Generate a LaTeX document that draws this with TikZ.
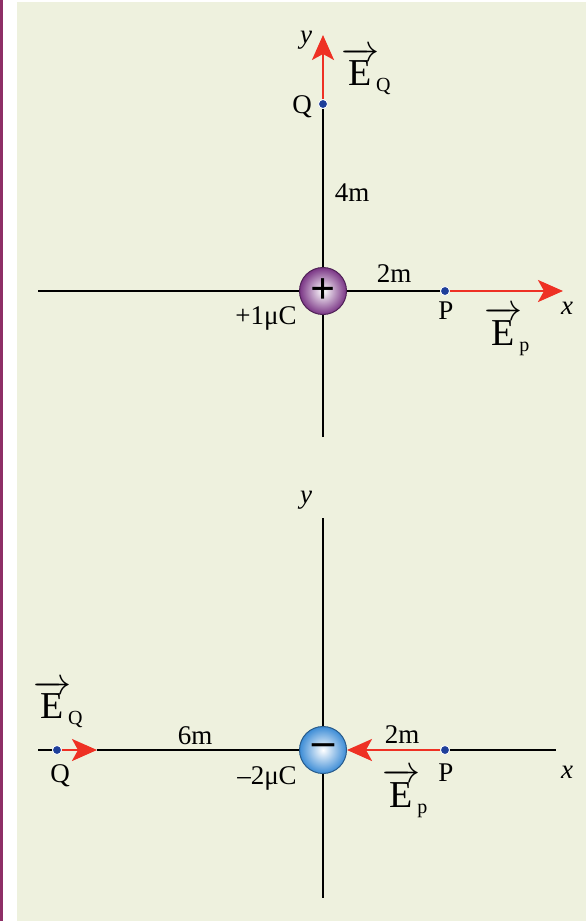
\documentclass[tikz,border=0pt]{standalone}
\usepackage{fix-cm}
\usepackage{amsmath}
\usepackage{fontspec}
\setmainfont{Liberation Serif}
\usetikzlibrary{arrows.meta,positioning}

\definecolor{panelgreen}{HTML}{EEF1DE}
\definecolor{sidebar}{HTML}{8E2F66}
\definecolor{fieldred}{HTML}{EE3124}
\definecolor{dotblue}{HTML}{1E3F9A}
\definecolor{chargepurple}{HTML}{7A3585}
\definecolor{chargeblue}{HTML}{3C8CD6}

\newcommand{\fieldvec}[1]{$\overrightarrow{\hbox{E}}_{\kern-3pt\hbox{\fontsize{20}{20}\selectfont #1}}$}

\begin{document}
\begin{tikzpicture}[
  x=1pt, y=-1pt,
  lbl/.style={inner sep=0pt, font=\fontsize{27}{30}\selectfont},
  axislbl/.style={inner sep=0pt, font=\fontsize{27}{30}\selectfont\itshape},
  veclbl/.style={inner sep=0pt, font=\fontsize{38}{40}\selectfont},
  axis/.style={line width=1.8pt, black},
  field/.style={line width=2.4pt, fieldred, -{Stealth[length=25pt, width=22pt, inset=6pt]}},
  spot/.style={circle, fill=dotblue, draw=white, line width=0.8pt, inner sep=0pt, minimum size=9pt},
  charge/.style={circle, draw=#1!65!black, line width=1pt, inner color=white, outer color=#1,
    minimum size=47pt, inner sep=0pt, font=\fontsize{44}{44}\selectfont\bfseries}
]
\useasboundingbox (0,0) rectangle (588,921);
\fill[sidebar] (0,0) rectangle (2.5,921);
\fill[panelgreen] (17,2) rectangle (586,921);

% positive charge
\coordinate (xa-left) at (38,291);
\coordinate (xa-tip) at (563,291);
\coordinate (ya-bot) at (323,437);
\coordinate (ya-tip) at (323,35);
\node[spot] (Pa) at (445,291) {};
\node[spot] (Qa) at (323,104) {};
\draw[axis] (xa-left) -- (Pa);
\draw[axis] (ya-bot) -- (Qa);
\draw[field] (Pa) -- (xa-tip);
\draw[field] (Qa) -- (ya-tip);
\node[charge=chargepurple] (qa) at (323,291) {+};

\node[axislbl] (ya-lbl) at (306,40) {y};
\node[axislbl] (xa-lbl) at (567,308) {x};
\node[lbl] (Qa-lbl) at (302,107) {Q};
\node[lbl] (Pa-lbl) at (446,311) {P};
\node[veclbl] (EQa) at (366,71) {\fieldvec{Q}};
\node[veclbl] (EPa) at (507,331) {\fieldvec{p}};
\node[lbl] (da-y) at (352,193) {4m};
\node[lbl] (da-x) at (394,274) {2m};
\node[lbl] (qa-lbl) at (266,318) {+1μC};

% negative charge
\coordinate (xb-left) at (38,750);
\coordinate (xb-right) at (556,750);
\coordinate (yb-top) at (323,518);
\coordinate (yb-bot) at (323,898);
\coordinate (fq-tip) at (97,750);
\node[spot] (Qb) at (57,750) {};
\node[spot] (Pb) at (445,750) {};
\node[charge=chargeblue] (qb) at (323,750) {–};
\draw[axis] (xb-left) -- (Qb);
\draw[axis] (fq-tip) -- (qb);
\draw[axis] (Pb) -- (xb-right);
\draw[axis] (yb-top) -- (qb) -- (yb-bot);
\draw[field] (Qb) -- (fq-tip);
\draw[field] (Pb) -- (qb);

\node[axislbl] (yb-lbl) at (306,500) {y};
\node[axislbl] (xb-lbl) at (567,772) {x};
\node[lbl] (Qb-lbl) at (60,776) {Q};
\node[lbl] (Pb-lbl) at (446,773) {P};
\node[veclbl] (EQb) at (58,704) {\fieldvec{Q}};
\node[veclbl] (EPb) at (405,793) {\fieldvec{p}};
\node[lbl] (db-x1) at (195,736) {6m};
\node[lbl] (db-x2) at (402,735) {2m};
\node[lbl] (qb-lbl) at (267,778) {–2μC};
\end{tikzpicture}
\end{document}
